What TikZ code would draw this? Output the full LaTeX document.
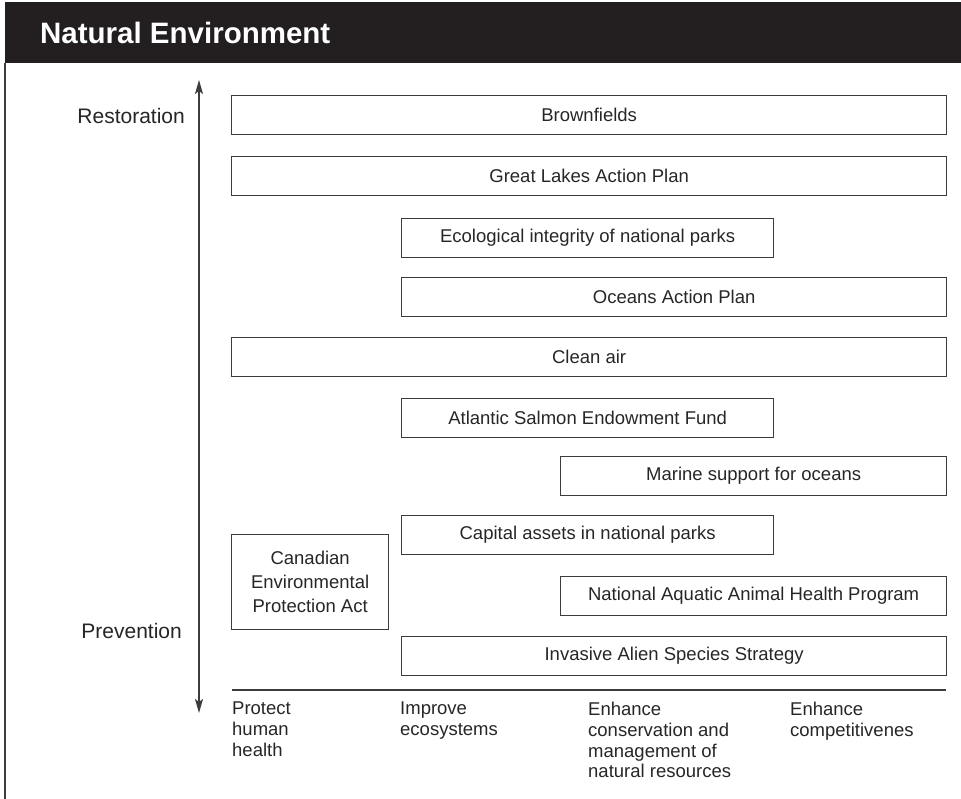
\documentclass[tikz,border=0pt]{standalone}
\usepackage{fontspec}
\setmainfont{Liberation Sans}
\usepackage{xcolor}
\usetikzlibrary{arrows.meta, positioning}
\definecolor{headblack}{HTML}{231F20}
\definecolor{linegray}{HTML}{3C3C3C}
\tikzset{
  planbox/.style={draw=linegray, line width=1.3pt, anchor=north west, align=center,
                  font=\fontsize{18.5}{24}\selectfont, inner sep=0pt, minimum height=39pt,
                  text=black!85},
  fullbox/.style={planbox, minimum width=715pt},
  rightbox/.style={planbox, minimum width=545pt},
  midbox/.style={planbox, minimum width=372pt},
  shortbox/.style={planbox, minimum width=386pt},
  goal/.style={anchor=north west, align=left, inner sep=0pt,
               font=\fontsize{18.5}{20.7}\selectfont, text=black!85}
}

\begin{document}
\begin{tikzpicture}[
  x=1pt, y=-1pt,
  axislabel/.style={anchor=east, inner sep=0pt, font=\fontsize{21}{25}\selectfont, text=black!85},
  axisarrow/.style={{Stealth[length=14pt, width=8pt, inset=3pt]}-{Stealth[length=14pt, width=8pt, inset=3pt]},
                    line width=1.3pt, linegray},
]
\useasboundingbox (0,0) rectangle (961,799);

% Header
\node[fill=headblack, anchor=north west, inner sep=0pt, minimum width=956pt, minimum height=61pt] (header) at (5,2) {};
\node[anchor=base west, inner sep=0pt, text=white, font=\fontsize{29.5}{32}\selectfont\bfseries] (title) at (40,44) {Natural Environment};
\draw[line width=1.2pt, linegray] (header.south west) -- ++(0,736);

% Axis
\coordinate (axtop) at (199,80);
\coordinate (axbot) at (199,713);
\draw[axisarrow] (axtop) -- (axbot);
\node[axislabel] (restore) at (185,116) {Restoration};
\node[axislabel] (prevent) at (182,631) {Prevention};

% Programs
\node[fullbox]  (brown)    at (231,95)  {Brownfields};
\node[fullbox]  (lakes)    at (231,156) {Great Lakes Action Plan};
\node[midbox]   (ecoint)   at (401,218) {Ecological integrity of national parks};
\node[rightbox] (oceans)   at (401,277) {Oceans Action Plan};
\node[fullbox]  (cleanair) at (231,337) {Clean air};
\node[midbox]   (salmon)   at (401,398) {Atlantic Salmon Endowment Fund};
\node[shortbox] (marine)   at (560,456) {Marine support for oceans};
\node[midbox]   (capital)  at (401,515) {Capital assets in national parks};
\node[planbox, minimum width=157pt, minimum height=95pt] (cepa) at (231,534)
  {Canadian\\Environmental\\Protection Act};
\node[shortbox] (aquatic)  at (560,576) {National Aquatic Animal Health Program};
\node[rightbox] (invasive) at (401,636) {Invasive Alien Species Strategy};

% Goals
\coordinate (baseL) at (232,690);
\coordinate (baseR) at (946,690);
\draw[line width=1.3pt, linegray] (baseL) -- (baseR);
\node[goal] (health)  at (232,702) {Protect\\human\\health};
\node[goal] (eco)     at (400,702) {Improve\\ecosystems};
\node[goal] (conserv) at (588,702) {Enhance\\conservation and\\management of\\natural resources};
\node[goal] (compete) at (790,702) {Enhance\\competitivenes};

\end{tikzpicture}
\end{document}
